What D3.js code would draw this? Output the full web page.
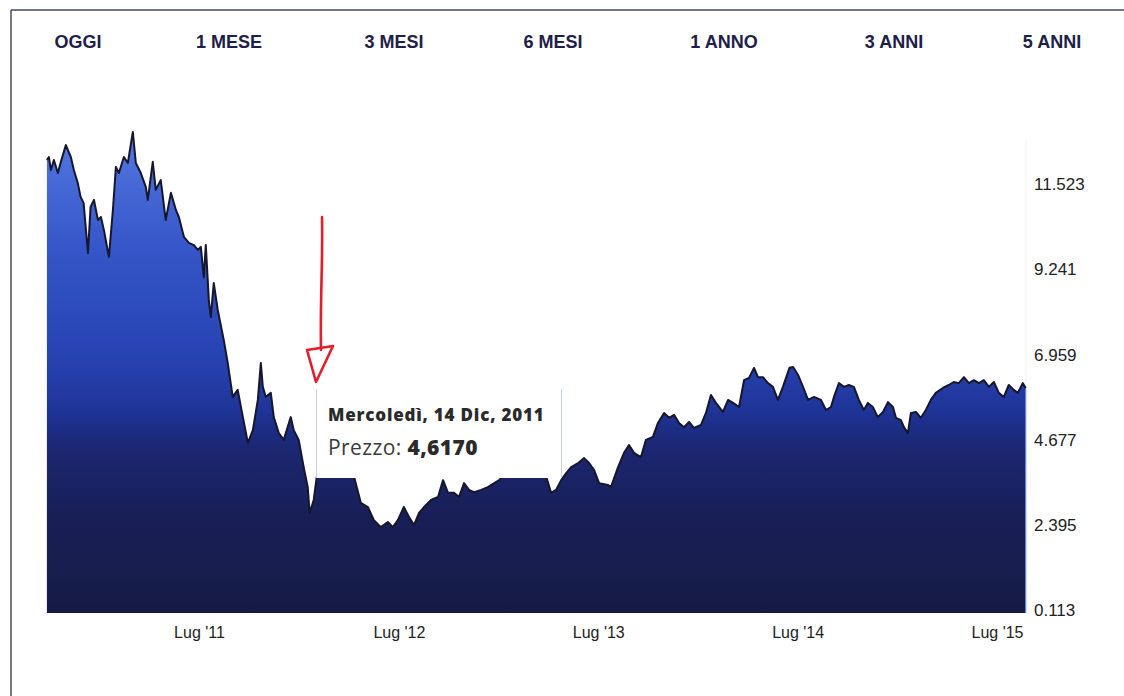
<!DOCTYPE html>
<html>
<head>
<meta charset="utf-8">
<script src="https://cdn.jsdelivr.net/npm/d3@7"></script>
<style>
  body { margin: 0; background: #fff; }
  svg { display: block; }
</style>
</head>
<body>
<div id="chart"></div>
<script>
const periods = ['OGGI', '1 MESE', '3 MESI', '6 MESI', '1 ANNO', '3 ANNI', '5 ANNI'];

// decimal years
const years = [
  2010.733, 2010.743, 2010.753, 2010.768, 2010.788, 2010.803, 2010.828, 2010.853, 2010.868, 2010.888,
  2010.902, 2010.917, 2010.939, 2010.952, 2010.969, 2010.989, 2011.004, 2011.019, 2011.044, 2011.064,
  2011.079, 2011.094, 2011.119, 2011.139, 2011.164, 2011.179, 2011.204, 2011.229, 2011.239, 2011.264,
  2011.279, 2011.304, 2011.329, 2011.355, 2011.380, 2011.395, 2011.420, 2011.445, 2011.470, 2011.490,
  2011.505, 2011.520, 2011.530, 2011.545, 2011.555, 2011.570, 2011.590, 2011.620, 2011.640, 2011.665,
  2011.690, 2011.716, 2011.741, 2011.766, 2011.791, 2011.806, 2011.816, 2011.831, 2011.856, 2011.871,
  2011.896, 2011.921, 2011.956, 2011.971, 2011.996, 2012.021, 2012.041, 2012.051, 2012.071, 2012.086,
  2012.117, 2012.157, 2012.197, 2012.237, 2012.272, 2012.307, 2012.342, 2012.372, 2012.407, 2012.442,
  2012.467, 2012.492, 2012.522, 2012.548, 2012.573, 2012.598, 2012.623, 2012.658, 2012.693, 2012.718,
  2012.743, 2012.773, 2012.798, 2012.823, 2012.848, 2012.873, 2012.909, 2012.944, 2012.974, 2012.999,
  2013.034, 2013.084, 2013.134, 2013.184, 2013.234, 2013.259, 2013.284, 2013.310, 2013.335, 2013.360,
  2013.395, 2013.425, 2013.450, 2013.475, 2013.500, 2013.545, 2013.560, 2013.595, 2013.625, 2013.650,
  2013.675, 2013.710, 2013.735, 2013.770, 2013.795, 2013.826, 2013.851, 2013.876, 2013.901, 2013.926,
  2013.951, 2013.976, 2014.011, 2014.036, 2014.061, 2014.086, 2014.121, 2014.147, 2014.172, 2014.202,
  2014.227, 2014.252, 2014.277, 2014.297, 2014.322, 2014.347, 2014.372, 2014.397, 2014.422, 2014.455,
  2014.473, 2014.498, 2014.523, 2014.548, 2014.578, 2014.613, 2014.638, 2014.663, 2014.678, 2014.703,
  2014.728, 2014.753, 2014.778, 2014.803, 2014.828, 2014.848, 2014.873, 2014.898, 2014.924, 2014.949,
  2014.974, 2014.989, 2015.014, 2015.029, 2015.049, 2015.064, 2015.089, 2015.114, 2015.139, 2015.164,
  2015.189, 2015.224, 2015.254, 2015.279, 2015.304, 2015.330, 2015.355, 2015.380, 2015.405, 2015.430,
  2015.455, 2015.480, 2015.505, 2015.530, 2015.555, 2015.580, 2015.600, 2015.625, 2015.640
];

const prices = [
  12.14, 12.22, 11.87, 12.14, 11.79, 12.09, 12.54, 12.22, 11.87, 11.52,
  11.15, 10.99, 9.65, 10.88, 11.07, 10.53, 10.61, 10.26, 9.54, 10.80,
  11.95, 11.79, 12.22, 12.06, 12.89, 12.06, 11.79, 11.42, 11.07, 12.09,
  11.34, 11.60, 10.53, 11.26, 10.80, 10.61, 10.08, 9.92, 9.86, 9.73,
  9.81, 9.00, 9.86, 8.39, 7.93, 8.84, 8.12, 7.32, 6.70, 5.79,
  5.98, 5.25, 4.56, 4.90, 5.71, 6.70, 6.06, 5.79, 5.90, 5.25,
  4.82, 4.64, 5.25, 4.90, 4.64, 3.91, 3.38, 2.68, 3.03, 3.64,
  3.97, 4.23, 4.10, 3.89, 3.67, 2.95, 2.84, 2.49, 2.30, 2.44,
  2.30, 2.49, 2.84, 2.57, 2.36, 2.68, 2.84, 3.03, 3.11, 3.56,
  3.22, 3.22, 3.11, 3.48, 3.30, 3.24, 3.30, 3.38, 3.48, 3.56,
  3.78, 3.89, 3.72, 3.83, 3.67, 3.22, 3.30, 3.56, 3.75, 3.91,
  4.02, 4.15, 4.02, 3.83, 3.48, 3.43, 3.38, 3.91, 4.29, 4.50,
  4.29, 4.18, 4.64, 4.72, 5.09, 5.36, 5.23, 5.31, 5.09, 4.98,
  5.12, 4.96, 5.04, 5.36, 5.84, 5.63, 5.39, 5.71, 5.63, 5.52,
  6.24, 6.30, 6.57, 6.32, 6.32, 6.16, 6.06, 5.71, 6.06, 6.57,
  6.59, 6.38, 6.06, 5.71, 5.79, 5.71, 5.44, 5.52, 5.79, 6.16,
  6.06, 6.11, 6.06, 5.71, 5.44, 5.63, 5.52, 5.25, 5.39, 5.65,
  5.52, 5.23, 5.17, 4.98, 4.82, 5.36, 5.39, 5.23, 5.44, 5.71,
  5.90, 6.03, 6.11, 6.19, 6.16, 6.32, 6.16, 6.24, 6.16, 6.24,
  6.06, 6.19, 5.90, 5.79, 6.11, 5.98, 5.90, 6.16, 6.03
];

const yTicks = [0.113, 2.395, 4.677, 6.959, 9.241, 11.523];
const xTickYears = [2011, 2012, 2013, 2014, 2015];

const tooltipDate = 'Mercoledì, 14 Dic, 2011';
const tooltipLabel = 'Prezzo: ';
const tooltipValue = '4,6170';

function yearToDate(t) {
  const y = Math.floor(t);
  const a = new Date(y, 0, 1).getTime();
  const b = new Date(y + 1, 0, 1).getTime();
  return new Date(a + (t - y) * (b - a));
}

const data = years.map((t, i) => ({ date: yearToDate(t), value: prices[i] }));

const width = 1124, height = 696;
const svg = d3.select('#chart').append('svg')
  .attr('width', width)
  .attr('height', height);

const x = d3.scaleTime()
  .domain([new Date(2011, 6, 1), new Date(2015, 6, 1)])
  .range([199, 997]);

const y = d3.scaleLinear()
  .domain([0, 11.523])
  .range([613, 183]);

// frame of the scanned page
svg.append('line').attr('x1', 11).attr('y1', 10).attr('x2', width).attr('y2', 10)
  .attr('stroke', '#3c4a70').attr('stroke-width', 1.5);
svg.append('line').attr('x1', 11).attr('y1', 10).attr('x2', 11).attr('y2', height)
  .attr('stroke', '#222').attr('stroke-width', 1.2);

svg.selectAll('.period')
  .data(periods)
  .enter().append('text')
  .attr('class', 'period')
  .attr('x', (d, i) => [78, 229, 394, 553, 724, 894, 1052][i])
  .attr('y', 48)
  .attr('text-anchor', 'middle')
  .style('font-family', 'Liberation Sans, Arial, sans-serif')
  .style('font-weight', 'bold')
  .style('font-size', '18px')
  .attr('fill', '#1d2048')
  .text(d => d);

const defs = svg.append('defs');
const grad = defs.append('linearGradient')
  .attr('id', 'fillGrad')
  .attr('gradientUnits', 'userSpaceOnUse')
  .attr('x1', 0).attr('y1', 130).attr('x2', 0).attr('y2', 613);
[[0, '#5479e2'], [0.25, '#3555c8'], [0.47, '#2743b2'], [0.58, '#1f3498'],
 [0.66, '#1b2772'], [0.8, '#181f56'], [1, '#161b45']].forEach(s => {
  grad.append('stop').attr('offset', s[0]).attr('stop-color', s[1]);
});

// faint plot boundary on the right
svg.append('line').attr('x1', 1026).attr('y1', 140).attr('x2', 1026).attr('y2', 613)
  .attr('stroke', '#f0f2f6').attr('stroke-width', 1);

const area = d3.area()
  .x(d => x(d.date))
  .y0(y(0))
  .y1(d => y(d.value));

const line = d3.line()
  .x(d => x(d.date))
  .y(d => y(d.value));

svg.append('path')
  .datum(data)
  .attr('d', area)
  .attr('fill', 'url(#fillGrad)');

svg.append('path')
  .datum(data)
  .attr('d', line)
  .attr('fill', 'none')
  .attr('stroke', '#16172a')
  .attr('stroke-width', 2)
  .attr('stroke-linejoin', 'round');

svg.append('line')
  .attr('x1', x(data[data.length - 1].date)).attr('x2', x(data[data.length - 1].date))
  .attr('y1', y(data[data.length - 1].value) + 2).attr('y2', y(0))
  .attr('stroke', '#6a8ee8').attr('stroke-width', 1);

const yAxis = svg.append('g')
  .attr('transform', 'translate(1026,0)')
  .call(d3.axisRight(y).tickValues(yTicks).tickFormat(d3.format('.3f')).tickSize(0).tickPadding(8));
yAxis.select('.domain').remove();
yAxis.selectAll('text')
  .style('font-family', 'Liberation Sans, Arial, sans-serif')
  .style('font-size', '17px')
  .attr('fill', '#222')
  .attr('dy', '0.4em');

const xAxis = svg.append('g')
  .attr('transform', `translate(0,${y(0)})`)
  .call(d3.axisBottom(x)
    .tickValues(xTickYears.map(yr => new Date(yr, 6, 1)))
    .tickFormat(d => "Lug '" + d3.timeFormat('%y')(d))
    .tickSize(0).tickPadding(14));
xAxis.select('.domain').remove();
xAxis.selectAll('text')
  .style('font-family', 'Liberation Sans, Arial, sans-serif')
  .style('font-size', '16px')
  .attr('fill', '#222');

// tooltip box covering part of the chart
const tip = svg.append('g');
tip.append('rect')
  .attr('x', 316).attr('y', 389).attr('width', 246).attr('height', 89)
  .attr('fill', '#fff');
tip.append('line').attr('x1', 316.5).attr('x2', 316.5).attr('y1', 389).attr('y2', 478)
  .attr('stroke', '#c4d0e4');
tip.append('line').attr('x1', 561.5).attr('x2', 561.5).attr('y1', 389).attr('y2', 478)
  .attr('stroke', '#c4d0e4');
tip.append('text')
  .attr('x', 328).attr('y', 421)
  .style('font-family', 'Open Sans, DejaVu Sans, sans-serif')
  .style('font-weight', '800')
  .style('font-size', '17px')
  .style('letter-spacing', '0.8px')
  .attr('fill', '#2a2a2a')
  .text(tooltipDate);
const t2 = tip.append('text')
  .attr('x', 328).attr('y', 455)
  .style('font-family', 'Open Sans, DejaVu Sans, sans-serif')
  .style('font-size', '21px')
  .style('letter-spacing', '0.4px')
  .attr('fill', '#3a3a3a');
t2.append('tspan').text(tooltipLabel);
t2.append('tspan').style('font-weight', '800').attr('fill', '#2a2a2a').text(tooltipValue);

// hand-drawn red arrow
const arrow = svg.append('g')
  .attr('fill', 'none')
  .attr('stroke', '#e01f2a')
  .attr('stroke-width', 2.6)
  .attr('stroke-linejoin', 'round')
  .attr('stroke-linecap', 'round');
arrow.append('path').attr('d', 'M322,217 C323,260 320,300 321,350');
arrow.append('path').attr('d', 'M307,350 L333,346 L316,382 Z');
</script>
</body>
</html>
